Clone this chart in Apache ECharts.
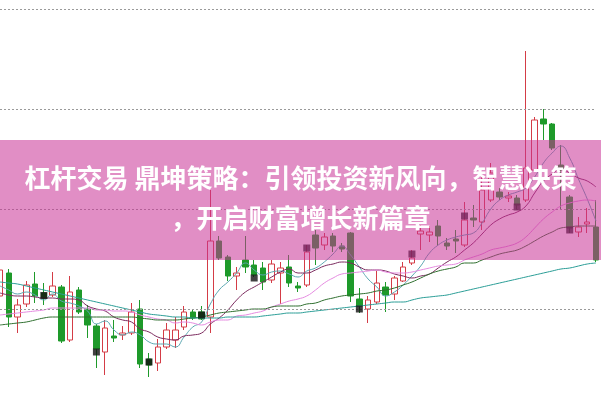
<!DOCTYPE html>
<html><head><meta charset="utf-8">
<script src="https://cdn.jsdelivr.net/npm/echarts@6/dist/echarts.min.js"></script>
<style>html,body{margin:0;padding:0;background:#fff}#c{width:601px;height:400px}</style>
</head><body><div id="c"></div>
<script>
// Candles: [open, close, low, high]
const candles = [
[4.13,4.39,4.09,4.54],[4.36,3.92,3.82,4.40],[3.92,4.04,3.76,4.10],[4.05,4.24,4.02,4.28],[4.25,4.13,4.06,4.37],
[4.16,4.11,4.04,4.26],[4.14,4.23,4.12,4.37],[4.22,3.68,3.66,4.24],[3.69,4.17,3.67,4.33],[4.19,3.97,3.95,4.22],
[4.00,3.84,3.71,4.04],[3.83,3.60,3.41,3.85],[3.57,3.81,3.34,3.89],[3.73,3.71,3.67,3.89],[3.74,3.76,3.69,3.83],
[3.76,3.97,3.74,4.06],[4.00,3.45,3.41,4.09],[3.50,3.44,3.32,3.56],[3.46,3.62,3.38,3.70],[3.62,3.79,3.60,3.86],
[3.69,3.79,3.61,3.92],[3.82,3.97,3.79,4.03],[3.97,3.91,3.89,4.00],[3.97,3.90,3.89,4.03],[3.92,4.68,3.76,5.19],
[4.68,4.51,4.49,4.73],[4.52,4.33,4.28,4.54],[4.33,4.36,4.19,4.42],[4.49,4.42,4.36,4.73],[4.44,4.34,4.32,4.49],
[4.41,4.27,4.19,4.47],[4.29,4.45,4.26,4.49],[4.36,4.41,4.05,4.47],[4.42,4.26,4.22,4.54],[4.23,4.21,4.17,4.27],
[4.24,4.57,4.22,4.64],[4.74,4.61,4.44,4.79],[4.64,4.72,4.59,4.76],[4.73,4.63,4.57,4.76],[4.63,4.60,4.57,4.66],
[4.76,4.13,4.07,4.77],[4.10,4.03,3.96,4.21],[4.00,4.09,3.86,4.13],[4.07,4.26,4.05,4.38],[4.22,4.14,3.97,4.27],
[4.15,4.31,4.09,4.33],[4.28,4.42,4.27,4.47],[4.46,4.51,4.44,4.59],[4.75,4.78,4.59,4.84],[4.74,4.77,4.67,4.83],
[4.83,4.73,4.64,4.89],[4.66,4.63,4.59,4.71],[4.70,4.68,4.56,4.79],[4.64,4.89,4.62,5.07],[4.91,4.89,4.82,5.04],
[4.87,5.19,4.79,5.34],[5.09,5.36,5.07,5.46],[5.17,5.12,5.09,5.21],[5.11,5.13,5.07,5.17],[5.11,5.04,4.99,5.14],
[5.09,5.41,5.07,6.58],[5.39,5.89,5.37,5.92],[5.90,5.85,5.69,6.00],[5.85,5.61,5.59,5.86],[5.44,5.39,4.99,5.64],
[5.12,4.81,4.76,5.14],[4.77,4.82,4.72,4.92],[4.85,4.87,4.76,5.01],[4.82,4.49,4.47,5.09]
];
const ma5 = [4.23,4.19,4.15,4.17,4.14,4.09,4.15,4.08,4.06,4.03,3.98,3.85,3.88,3.79,3.74,3.77,3.74,3.67,3.65,3.65,3.62,3.72,3.82,3.87,4.05,4.19,4.27,4.36,4.46,4.39,4.34,4.37,4.38,4.35,4.32,4.38,4.41,4.47,4.55,4.63,4.54,4.42,4.30,4.22,4.13,4.17,4.24,4.33,4.43,4.56,4.64,4.69,4.72,4.74,4.76,4.86,5.00,5.09,5.14,5.17,5.21,5.32,5.46,5.56,5.63,5.51,5.30,5.10,4.88];
const ma10 = [4.16,4.14,4.13,4.13,4.12,4.11,4.11,4.10,4.10,4.09,4.03,4.00,3.98,3.92,3.89,3.87,3.80,3.77,3.72,3.70,3.69,3.73,3.74,3.76,3.85,3.91,3.99,4.09,4.17,4.22,4.27,4.32,4.37,4.40,4.36,4.36,4.39,4.43,4.45,4.47,4.46,4.42,4.39,4.39,4.38,4.35,4.33,4.31,4.33,4.35,4.41,4.47,4.52,4.59,4.66,4.75,4.84,4.90,4.94,4.97,5.03,5.16,5.28,5.35,5.40,5.36,5.31,5.28,5.22];
const ma20 = [3.94,3.95,3.96,3.97,3.98,3.99,4.01,4.01,4.01,4.01,4.01,3.99,3.99,3.98,3.98,3.97,3.94,3.92,3.90,3.89,3.86,3.87,3.86,3.84,3.87,3.89,3.89,3.93,3.94,3.96,3.98,4.02,4.05,4.08,4.10,4.13,4.19,4.26,4.31,4.35,4.36,4.37,4.38,4.39,4.37,4.36,4.36,4.37,4.39,4.41,4.43,4.44,4.45,4.49,4.52,4.55,4.59,4.61,4.63,4.66,4.72,4.81,4.90,4.97,5.03,5.06,5.08,5.09,5.08];
const ma30 = [3.84,3.85,3.86,3.87,3.89,3.91,3.92,3.92,3.92,3.92,3.92,3.92,3.92,3.92,3.92,3.92,3.91,3.90,3.89,3.89,3.89,3.90,3.91,3.92,3.94,3.96,3.97,3.98,3.99,4.00,4.00,4.02,4.03,4.03,4.03,4.05,4.06,4.09,4.11,4.13,4.14,4.15,4.16,4.18,4.19,4.21,4.24,4.27,4.31,4.35,4.38,4.40,4.42,4.46,4.46,4.49,4.52,4.55,4.57,4.59,4.63,4.68,4.73,4.77,4.81,4.82,4.83,4.83,4.83];
const ma60 = [4.27,4.26,4.25,4.23,4.21,4.19,4.17,4.15,4.13,4.11,4.09,4.07,4.05,4.03,4.01,3.99,3.97,3.95,3.94,3.93,3.92,3.92,3.91,3.91,3.91,3.91,3.92,3.92,3.92,3.92,3.93,3.94,3.95,3.96,3.96,3.97,3.98,3.99,4.00,4.01,4.02,4.03,4.04,4.05,4.06,4.07,4.07,4.09,4.11,4.12,4.13,4.14,4.16,4.18,4.20,4.22,4.24,4.26,4.28,4.30,4.32,4.34,4.36,4.38,4.40,4.41,4.43,4.45,4.46];
// black square markers: [index, price]
const markers = [[5,4.135],[11,3.57],[17,3.47],[23,3.94],[29,4.31],[35,4.61],[41,4.00],[47,4.55],[53,4.93],[59,5.02],[65,4.79]];
const gridValues = [4,5,6,7];
const titleLine1 = '杠杆交易 鼎坤策略：引领投资新风向，智慧决策';
const titleLine2 = '，开启财富增长新篇章';

const cats = candles.map((_, i) => String(i));
const chart = echarts.init(document.getElementById('c'), null, {renderer: 'canvas'});
const lineS = (name, data, color) => ({
  name, type: 'line', data, symbol: 'none', smooth: true, z: 3,
  lineStyle: {color, width: 1}, silent: true
});
chart.setOption({
  animation: false,
  grid: {left: 0, right: 5, top: 0, bottom: 0},
  xAxis: {type: 'category', data: cats, boundaryGap: false, show: false},
  yAxis: {type: 'value', min: 3.09, max: 7.09, show: false, splitLine: {show: false}},
  series: [
    {
      type: 'candlestick', data: candles, barWidth: 6, clip: false, z: 2,
      itemStyle: {color: '#ffffff', color0: '#1e9a2a', borderColor: '#d43c46', borderColor0: '#1e9a2a', borderWidth: 1},
      markLine: {
        silent: true, symbol: 'none', label: {show: false},
        lineStyle: {color: '#9a9a9a', type: [2, 2], width: 1},
        data: gridValues.map(v => ({yAxis: v}))
      }
    },
    lineS('MA5', ma5, '#5aa6b0'),
    lineS('MA10', ma10, '#7b2a5e'),
    lineS('MA20', ma20, '#e58ae0'),
    lineS('MA30', ma30, '#2f6f2f'),
    lineS('MA60', ma60, '#2a9d96'),
    {
      type: 'scatter', data: markers, symbol: 'rect', symbolSize: [7, 7], z: 5,
      itemStyle: {color: '#111111'}, silent: true
    }
  ],
  graphic: [
    {type: 'rect', left: 0, top: 140, z: 100, shape: {width: 601, height: 120},
     style: {fill: 'rgba(200,50,150,0.55)'}},
    {type: 'text', left: 'center', top: 165, z: 101,
     style: {text: titleLine1, fill: '#ffffff', font: 'bold 26px "Noto Sans CJK SC"'}},
    {type: 'text', left: 'center', top: 205, z: 101,
     style: {text: titleLine2, fill: '#ffffff', font: 'bold 26px "Noto Sans CJK SC"'}}
  ]
});
</script></body></html>
